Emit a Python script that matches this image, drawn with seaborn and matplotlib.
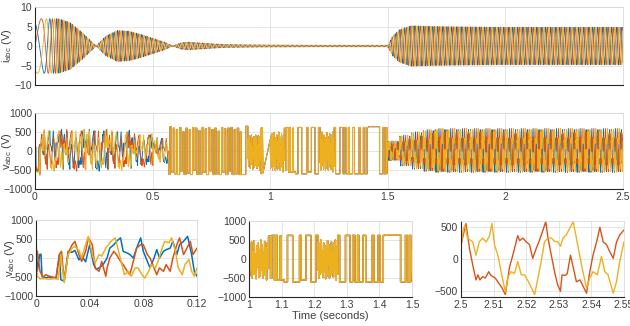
import numpy as np
import matplotlib
matplotlib.use("Agg")
import matplotlib.pyplot as plt
import seaborn as sns

# ---------------- data ----------------
C_BLUE, C_ORANGE, C_YELLOW = "#0072BD", "#D95319", "#EDB120"

# top panel: current envelope (A) and carrier frequency (Hz) knots
i_env_t = [0, 0.10, 0.15, 0.20, 0.26, 0.30, 0.35, 0.40, 0.45, 0.50, 0.55, 0.585,
           0.62, 0.65, 0.70, 0.80, 0.90, 1.00, 1.20, 1.50, 1.52, 1.55, 1.60, 1.70, 2.00, 2.50]
i_env = [7.0, 7.0, 6.0, 3.5, 0.0, 2.5, 4.0, 3.8, 3.0, 2.0, 1.0, 0.0,
         0.8, 1.0, 0.8, 0.4, 0.3, 0.25, 0.2, 0.2, 2.5, 4.2, 5.2, 5.0, 4.8, 4.8]
i_freq_t = [0, 0.03, 0.06, 0.10, 2.5]
i_freq = [7, 12, 25, 50, 50]
i_phase0_deg = 30

# bottom-left panel (0 - 0.12 s), voltage readings (t, V)
bl_blue = [(0, 500), (0.001, -350), (0.0027, 90), (0.0037, 100), (0.0045, -480), (0.007, -520),
           (0.01, -500), (0.0125, -540), (0.015, -520), (0.0175, 100), (0.0185, -570), (0.021, -610),
           (0.024, 175), (0.0267, 150), (0.029, 200), (0.032, -50), (0.034, 50), (0.037, -100),
           (0.04, 350), (0.043, -175), (0.045, -300), (0.0475, -250), (0.05, -175), (0.053, 0),
           (0.055, 260), (0.058, 350), (0.06, 440), (0.063, 530), (0.065, 175), (0.068, 130),
           (0.07, 90), (0.0725, 0), (0.075, 260), (0.078, 530), (0.08, 175), (0.083, -90),
           (0.085, -260), (0.088, 0), (0.09, 220), (0.092, 0), (0.095, 175), (0.097, 220),
           (0.10, 260), (0.102, 440), (0.105, 90), (0.107, 350), (0.11, 440), (0.113, 570),
           (0.116, 90), (0.118, -350), (0.12, -480)]
bl_orange = [(0, 0), (0.001, 175), (0.003, -350), (0.005, -500), (0.0075, -440), (0.01, -480),
             (0.0125, -500), (0.015, -520), (0.0175, 100), (0.019, 175), (0.021, -600), (0.024, 140),
             (0.027, 350), (0.029, 440), (0.032, 90), (0.034, -90), (0.037, 175), (0.039, 530),
             (0.042, 350), (0.044, -260), (0.047, -350), (0.049, -90), (0.052, -480), (0.053, -260),
             (0.055, 0), (0.058, 175), (0.06, 90), (0.063, -90), (0.065, -175), (0.068, -350),
             (0.07, -440), (0.0725, -90), (0.075, 260), (0.078, 350), (0.08, 350), (0.083, 90),
             (0.085, 0), (0.088, -260), (0.09, -440), (0.092, -260), (0.095, -350), (0.097, -175),
             (0.10, -350), (0.102, 0), (0.105, 350), (0.107, 530), (0.11, 90), (0.1125, 260),
             (0.115, 440), (0.117, 90), (0.12, 260)]
bl_yellow = [(0, -90), (0.001, -480), (0.003, -550), (0.006, -540), (0.01, -560), (0.013, -540),
             (0.0165, -560), (0.0185, 90), (0.021, -650), (0.024, 90), (0.027, 260), (0.029, 300),
             (0.032, 200), (0.034, 0), (0.037, 350), (0.039, 570), (0.042, 90), (0.044, -130),
             (0.047, 90), (0.049, 50), (0.052, 260), (0.054, 350), (0.056, 440), (0.059, 530),
             (0.061, 260), (0.064, -175), (0.066, -440), (0.069, -350), (0.071, -480), (0.074, -260),
             (0.076, -260), (0.079, -440), (0.081, -530), (0.084, -350), (0.086, -175), (0.089, -260),
             (0.091, -90), (0.094, 260), (0.096, 440), (0.099, 400), (0.101, 530), (0.104, 175),
             (0.106, -260), (0.109, -440), (0.111, -175), (0.114, -40), (0.116, -350), (0.118, -480),
             (0.12, -260)]

# bottom-right panel (2.5 - 2.55 s)
br_orange = [(2.5, 220), (2.5015, 560), (2.5026, 170), (2.5036, -95), (2.5046, -330), (2.5052, -250),
             (2.5058, -330), (2.5066, -280), (2.5075, -300), (2.5085, -200), (2.5092, -260),
             (2.5105, -300), (2.5125, -450), (2.5136, -560), (2.5149, -120), (2.5159, 60),
             (2.5174, 370), (2.518, 290), (2.519, 330), (2.52, 270), (2.521, 230), (2.522, 10),
             (2.5231, 170), (2.5241, 300), (2.5251, 450), (2.526, 590), (2.5267, 330), (2.5277, 60),
             (2.5287, -200), (2.5296, -400), (2.5305, -510), (2.531, -250), (2.532, -260),
             (2.5326, -230), (2.5336, 60), (2.5345, -150), (2.5354, -360), (2.5365, -330),
             (2.5385, -540), (2.5395, -200), (2.5405, 60), (2.5416, 270), (2.5426, 500),
             (2.5436, 270), (2.5446, 230), (2.5456, 120), (2.5467, 10), (2.5477, 270),
             (2.5487, 380), (2.55, 460)]
br_yellow = [(2.5, 220), (2.5008, 480), (2.5012, 530), (2.502, 330), (2.5028, 300), (2.5036, 270),
             (2.5046, 60), (2.5056, 270), (2.5066, 330), (2.5077, 270), (2.5087, 360), (2.5095, 560),
             (2.5103, 220), (2.5113, 60), (2.5123, -200), (2.5136, -520), (2.5144, -280),
             (2.5154, -200), (2.5164, -230), (2.5174, -40), (2.5185, -250), (2.5195, -250),
             (2.5205, -340), (2.5226, -560), (2.5236, -300), (2.5246, -40), (2.5256, 270),
             (2.5266, 330), (2.5277, 330), (2.5287, 280), (2.5297, 270), (2.5305, 200),
             (2.5313, 330), (2.5323, 380), (2.5333, 480), (2.5344, 590), (2.5354, 330),
             (2.5364, 60), (2.5374, -200), (2.5385, -460), (2.5395, -300), (2.5405, -200),
             (2.5418, -250), (2.5431, 40), (2.5441, -200), (2.5451, -250), (2.5467, -540),
             (2.5477, -360), (2.5487, -40), (2.55, 270)]

# middle segment 0.57 - 1.0 s: switching steps (time, new level)
sw_a = [(0.574, 640), (0.580, -560), (0.588, 600), (0.593, -600), (0.601, 560), (0.606, -620),
        (0.615, 620), (0.620, -540), (0.629, 500), (0.634, -620), (0.642, 600), (0.647, -580),
        (0.656, 560), (0.661, -620), (0.670, 620), (0.675, -500), (0.683, 600), (0.688, -620),
        (0.697, 540), (0.702, -600), (0.711, 620), (0.716, -560), (0.724, 580), (0.729, -620),
        (0.738, 620), (0.743, -520), (0.752, 560), (0.757, -620), (0.765, 600), (0.770, -600),
        (0.779, 520), (0.784, -620), (0.793, 620), (0.798, -560), (0.806, 580), (0.811, -620),
        (0.820, 600), (0.825, -540), (0.833, 620), (0.838, -620), (0.847, 560), (0.852, -600),
        (0.860, 600), (0.866, -620), (0.872, 500), (0.876, -620), (0.896, 650), (0.905, -200)]
noise_a = [300, -400, 350, -250, 400, -450, 200, -350, 420, -300, 100, -480, 350, -200, 380,
           -420, 250, -380, 420, -300, 330, -460, 150, -400, 400, -350, 300, -500, 380, -250,
           600, -600, 620, -560, 610, -580]
# 1.0 - 1.5 s (bottom-middle panel)
noise_b = [300, -450, 400, -300, 450, -500, 200, -400, 480, -350, 100, -520, 350, -200, 420,
           -480, 250, -450, 500, -300, 380, -500, 150, -420, 460, -380, 300, -550, 420, -250]
sq_b = [(1.060, 600), (1.066, -500), (1.070, 620), (1.078, -560), (1.082, 620), (1.086, -560),
        (1.095, 600), (1.099, -550), (1.108, -600), (1.118, 620), (1.134, -600), (1.155, 620),
        (1.160, -550), (1.175, 620), (1.190, -600), (1.205, 620), (1.212, -300)]
noise_c = [450, -500, 300, -400, 500, -350, 200, -480, 420, -300, 350, -520, 250, -450, 480,
           -200, 380, -500, 300, -420, 450, -350, 200, -480, 420, -300, 500, -550, 350, -400]
sq_c = [(1.272, 620), (1.278, -600), (1.296, 620), (1.310, -600), (1.318, 620), (1.325, -600),
        (1.333, 620), (1.337, -600), (1.345, -600), (1.350, 620), (1.358, -600), (1.378, 620),
        (1.383, -600), (1.396, 620), (1.402, -600), (1.412, 620), (1.418, 640), (1.460, 640),
        (1.465, -600), (1.480, 620), (1.485, -600), (1.492, 620), (1.496, -600)]

seg_a_scale = [1.0, 1.0, 0.95, 0.8, 0.62]
seg_d_scale = [0.45, 0.7, 0.85, 0.95] + [1.0] * 16


# ---------------- build series ----------------
def pairs(p):
    a = np.array(p, dtype=float)
    return a[:, 0], a[:, 1]


def steps(t0, lvl0, knots):
    xs, ys = [t0], [lvl0]
    lvl = lvl0
    for t, v in knots:
        xs += [t, t]
        ys += [lvl, v]
        lvl = v
    return xs, ys


# top panel
ti = np.linspace(0, 2.5, 8001)
f = np.interp(ti, i_freq_t, i_freq)
ph = np.deg2rad(i_phase0_deg) + 2 * np.pi * np.concatenate([[0], np.cumsum(0.5 * (f[1:] + f[:-1]) * np.diff(ti))])
env = np.interp(ti, i_env_t, i_env)
i_series = [env * np.cos(ph), env * np.cos(ph - 2 * np.pi / 3), env * np.cos(ph + 2 * np.pi / 3)]

# middle panel
bl = [pairs(bl_blue), pairs(bl_orange), pairs(bl_yellow)]
br_o = pairs(br_orange)
br_y = pairs(br_yellow)
bo_t = np.mod(br_o[0] - 2.5 - 0.0083, 0.05)
order = np.argsort(bo_t)
br_b = (bo_t[order] + 2.5, br_o[1][order])
br = [br_b, br_o, br_y]

# common switching part 0.57-1.5
xs, ys = [], []
x1, y1 = steps(0.57, -620, sw_a)
xs += x1; ys += y1
xs += list(0.906 + 0.0018 * np.arange(len(noise_a))); ys += noise_a
xs += list(1.0 + 0.002 * np.arange(len(noise_b))); ys += noise_b
x2, y2 = steps(1.059, noise_b[-1], sq_b)
xs += x2; ys += y2
xs += list(1.213 + 0.002 * np.arange(len(noise_c))); ys += noise_c
x3, y3 = steps(1.271, noise_c[-1], sq_c)
xs += x3; ys += y3
sw_x, sw_y = np.array(xs), np.array(ys)

v_main = []
for k in range(3):
    tx, vy = [bl[k][0]], [bl[k][1]]
    for j, sc in enumerate(seg_a_scale):
        src = bl[(k + j + 1) % 3]
        m = src[0] >= 0.024
        tt = src[0][m] + 0.096 * (j + 1)
        keep = tt < 0.57
        tx.append(tt[keep]); vy.append(src[1][m][keep] * sc)
    tx.append(sw_x); vy.append(sw_y)
    for j, sc in enumerate(seg_d_scale):
        tt = br[k][0] - 2.5 + 1.5 + 0.05 * j
        tx.append(tt); vy.append(br[k][1] * sc)
    v_main.append((np.concatenate(tx), np.concatenate(vy)))

# ---------------- plotting ----------------
sns.set_style("white")
plt.rcParams["font.family"] = ["Liberation Sans", "DejaVu Sans"]
plt.rcParams["mathtext.fontset"] = "custom"
plt.rcParams["mathtext.rm"] = "Liberation Sans"
plt.rcParams["mathtext.it"] = "Liberation Sans"

fig = plt.figure(figsize=(6.30, 3.26), dpi=100)
W, H = 630, 326


def add_ax(x0, y0, x1, y1):
    return fig.add_axes([x0 / W, 1 - y1 / H, (x1 - x0) / W, (y1 - y0) / H])


ax_i = add_ax(35, 7, 623, 85)
ax_v = add_ax(35, 113, 623, 189)
ax_bl = add_ax(36, 220, 197, 296)
ax_bm = add_ax(249, 221, 412, 297)
ax_br = add_ax(461, 221, 624, 297)
colors = [C_BLUE, C_ORANGE, C_YELLOW]


def style(ax):
    ax.grid(True, color="#e0e0e0", lw=0.6)
    ax.set_axisbelow(True)
    for s in ["top", "right"]:
        ax.spines[s].set_color("#d9d9d9")
        ax.spines[s].set_linewidth(0.6)
    for s in ["left", "bottom"]:
        ax.spines[s].set_color("#262626")
        ax.spines[s].set_linewidth(0.8)
    ax.tick_params(direction="in", length=3, width=0.7, labelsize=7.5, colors="#262626",
                   labelcolor="#404040", top=False, right=False, pad=2)
    ax.set_xlabel("")
    ax.set_ylabel("")


for k in range(3):
    sns.lineplot(x=ti, y=i_series[k], ax=ax_i, color=colors[k], lw=0.6, estimator=None, sort=False)
ax_i.set_xlim(0, 2.5); ax_i.set_ylim(-10, 10)
style(ax_i)
ax_i.set_xticks(np.arange(0, 2.51, 0.5)); ax_i.set_xticklabels([])
ax_i.set_yticks([-10, -5, 0, 5, 10])
ax_i.set_ylabel(r"i$_{\mathrm{abc}}$ (V)", fontsize=8, color="#404040")
ax_i.yaxis.set_label_coords(-0.036, 0.5)

for k in range(3):
    sns.lineplot(x=v_main[k][0], y=v_main[k][1], ax=ax_v, color=colors[k], lw=0.7, estimator=None, sort=False)
ax_v.set_xlim(0, 2.5); ax_v.set_ylim(-1000, 1000)
style(ax_v)
ax_v.set_xticks(np.arange(0, 2.51, 0.5)); ax_v.set_xticklabels(["0", "0.5", "1", "1.5", "2", "2.5"])
ax_v.set_yticks([-1000, -500, 0, 500, 1000])
ax_v.set_ylabel(r"v$_{\mathrm{abc}}$ (V)", fontsize=8, color="#404040")
ax_v.yaxis.set_label_coords(-0.036, 0.5)

for k in range(3):
    sns.lineplot(x=bl[k][0], y=bl[k][1], ax=ax_bl, color=colors[k], lw=1.1, estimator=None, sort=False)
ax_bl.set_xlim(0, 0.12); ax_bl.set_ylim(-1000, 1000)
style(ax_bl)
ax_bl.set_xticks([0, 0.04, 0.08, 0.12]); ax_bl.set_xticklabels(["0", "0.04", "0.08", "0.12"])
ax_bl.set_yticks([-1000, -500, 0, 500, 1000])
ax_bl.set_ylabel(r"v$_{\mathrm{abc}}$ (V)", fontsize=8, color="#404040")
ax_bl.yaxis.set_label_coords(-0.12, 0.5)

for k in range(3):
    sns.lineplot(x=v_main[k][0], y=v_main[k][1], ax=ax_bm, color=colors[k], lw=1.0, estimator=None, sort=False)
ax_bm.set_xlim(1, 1.5); ax_bm.set_ylim(-1000, 1000)
style(ax_bm)
ax_bm.set_xticks(np.arange(1, 1.51, 0.1)); ax_bm.set_xticklabels(["1", "1.1", "1.2", "1.3", "1.4", "1.5"])
ax_bm.set_yticks([-1000, -500, 0, 500, 1000])
ax_bm.set_xlabel("Time (seconds)", fontsize=8, labelpad=1, color="#404040")

sns.lineplot(x=br_o[0], y=br_o[1], ax=ax_br, color=C_ORANGE, lw=1.0, estimator=None, sort=False)
sns.lineplot(x=br_y[0], y=br_y[1], ax=ax_br, color=C_YELLOW, lw=1.0, estimator=None, sort=False)
ax_br.set_xlim(2.5, 2.55); ax_br.set_ylim(-600, 600)
style(ax_br)
ax_br.set_xticks([2.5, 2.51, 2.52, 2.53, 2.54, 2.55])
ax_br.set_xticklabels(["2.5", "2.51", "2.52", "2.53", "2.54", "2.55"])
ax_br.set_yticks([-500, 0, 500])

fig.savefig("out.png", dpi=100)
